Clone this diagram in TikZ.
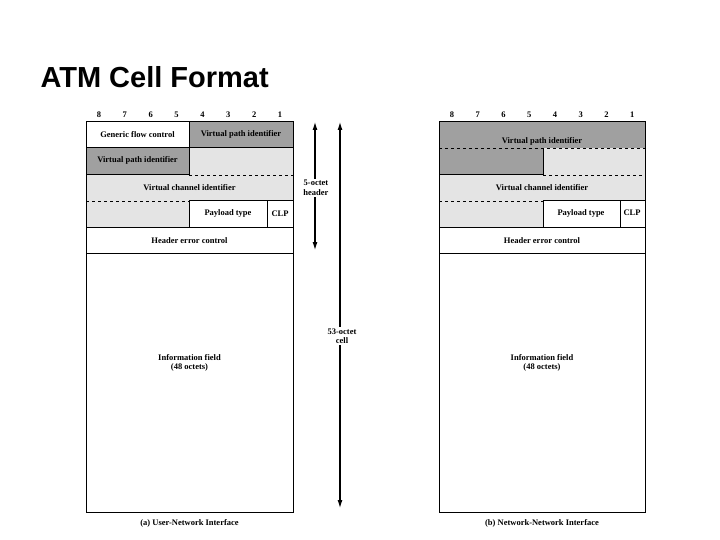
\documentclass[tikz,border=0pt]{standalone}
\usepackage{fontspec}
\setmainfont{Liberation Serif}
\newfontfamily\titlefont{Liberation Sans}
\usetikzlibrary{arrows.meta}
\definecolor{dk}{HTML}{A0A0A0}
\definecolor{lt}{HTML}{E4E4E4}
\begin{document}
\begin{tikzpicture}[x=1pt,y=-1pt,
  fld/.style={font=\bfseries\fontsize{8.5}{9.5}\selectfont,inner sep=0pt},
  cell/.style={draw=black,line width=1pt},
  dline/.style={dashed,line width=0.9pt},
  dim/.style={line width=1.1pt,{Latex[length=8pt,width=5pt]}-{Latex[length=8pt,width=5pt]}}]
\useasboundingbox (0,0) rectangle (720,540);
\node[anchor=west,font=\titlefont\bfseries\fontsize{29}{33}\selectfont] (title) at (37,77) {ATM Cell Format};
% ---------- (a) UNI ----------
\fill[lt] (86,148) rectangle (293,228);
\fill[dk] (189,122) rectangle (293,148);
\fill[dk] (86,148) rectangle (189,175);
\fill[white] (189,201) rectangle (293,228);
\draw[cell] (86,122) rectangle (293,512);
\draw[cell] (86,148) -- (293,148);
\draw[cell] (189,122) -- (189,175) -- (86,175);
\draw[dline] (189,175) -- (293,175);
\draw[dline] (86,201) -- (189,201);
\draw[cell] (189,201) -- (293,201);
\draw[cell] (189,201) -- (189,228);
\draw[cell] (267,201) -- (267,228);
\draw[cell] (86,228) -- (293,228);
\draw[cell] (86,253) -- (293,253);
\foreach \b [count=\i] in {8,7,6,5,4,3,2,1}
  \node[fld] (ab\b) at ({86+(\i-0.5)*207/8},115) {\b};
\node[fld] (agfc) at (137.5,135) {Generic flow control};
\node[fld] (avpi1) at (241,134) {Virtual path identifier};
\node[fld] (avpi2) at (137.5,160) {Virtual path identifier};
\node[fld] (avci) at (189.5,188) {Virtual channel identifier};
\node[fld] (apt) at (228,213) {Payload type};
\node[fld] (aclp) at (280,214) {CLP};
\node[fld] (ahec) at (189.5,241) {Header error control};
\node[fld,align=center] (ainfo) at (189.5,363) {Information field\\(48 octets)};
\node[fld] (acap) at (189.5,523) {(a) User-Network Interface};
% dimension arrows
\coordinate (h1) at (315,122); \coordinate (h2) at (315,250);
\coordinate (c1) at (340,122); \coordinate (c2) at (340,508);
\draw[dim] (h1) -- (h2);
\draw[dim] (c1) -- (c2);
\node[fld,fill=white,align=center,inner sep=1pt] (hl) at (316,188) {5-octet\\header};
\node[fld,fill=white,align=center,inner sep=1pt] (cl) at (342,336) {53-octet\\cell};
% ---------- (b) NNI ----------
\fill[dk] (439,122) rectangle (645,148);
\fill[dk] (439,148) rectangle (543,175);
\fill[lt] (543,148) rectangle (645,175);
\fill[lt] (439,175) rectangle (645,201);
\fill[lt] (439,201) rectangle (543,228);
\draw[cell] (439,122) rectangle (645,512);
\draw[dline] (439,148) -- (645,148);
\draw[cell] (543,148) -- (543,175) -- (439,175);
\draw[dline] (543,175) -- (645,175);
\draw[dline] (439,201) -- (543,201);
\draw[cell] (543,201) -- (645,201);
\draw[cell] (543,201) -- (543,228);
\draw[cell] (620,201) -- (620,228);
\draw[cell] (439,228) -- (645,228);
\draw[cell] (439,253) -- (645,253);
\foreach \b [count=\i] in {8,7,6,5,4,3,2,1}
  \node[fld] (bb\b) at ({439+(\i-0.5)*206/8},115) {\b};
\node[fld] (bvpi) at (542,141) {Virtual path identifier};
\node[fld] (bvci) at (542,188) {Virtual channel identifier};
\node[fld] (bpt) at (581,213) {Payload type};
\node[fld] (bclp) at (632,213) {CLP};
\node[fld] (bhec) at (542,241) {Header error control};
\node[fld,align=center] (binfo) at (542,363) {Information field\\(48 octets)};
\node[fld] (bcap) at (542,523) {(b) Network-Network Interface};
\end{tikzpicture}
\end{document}
